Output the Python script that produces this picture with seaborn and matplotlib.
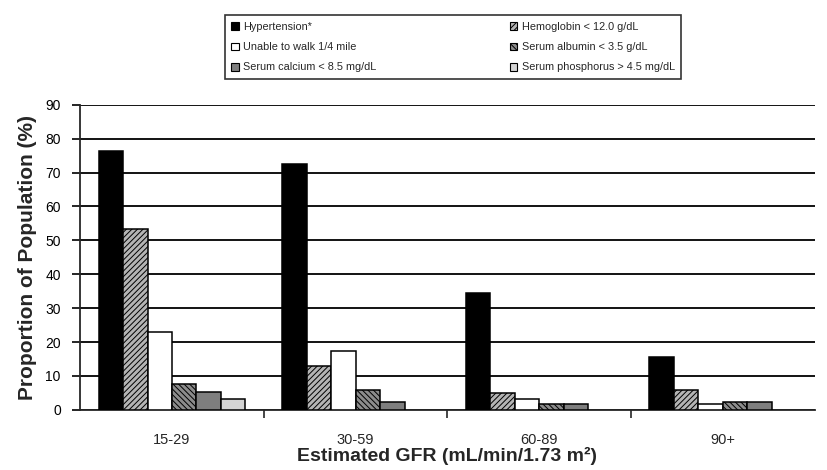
import numpy as np
import pandas as pd
import matplotlib
matplotlib.use("Agg")
import matplotlib.pyplot as plt
from matplotlib.patches import Patch
import seaborn as sns

# Estimated GFR groups and the prevalence (%) of each condition
gfr_groups = ["15-29", "30-59", "60-89", "90+"]
hypertension = [76.5, 72.6, 34.4, 15.5]
hemoglobin = [53.4, 13.0, 4.9, 5.8]
unable_walk = [23.1, 17.5, 3.3, 1.6]
albumin = [7.7, 5.8, 1.8, 2.2]
calcium = [5.4, 2.4, 1.8, 2.3]
phosphorus = [3.2, np.nan, np.nan, np.nan]

series_names = [
    "Hypertension*",
    "Hemoglobin < 12.0 g/dL",
    "Unable to walk 1/4 mile",
    "Serum albumin < 3.5 g/dL",
    "Serum calcium < 8.5 mg/dL",
    "Serum phosphorus > 4.5 mg/dL",
]
series_values = [hypertension, hemoglobin, unable_walk, albumin, calcium, phosphorus]

face_colors = ["#000000", "#b4b4b4", "#ffffff", "#8c8c8c", "#7e7e7e", "#d4d4d4"]
hatches = [None, "//////", None, "\\\\\\\\\\\\", None, None]

rows = []
for name, vals in zip(series_names, series_values):
    for g, v in zip(gfr_groups, vals):
        rows.append({"GFR": g, "Condition": name, "Percent": v})
df = pd.DataFrame(rows).dropna()

sns.set_style("white")
plt.rcParams["font.family"] = ["Liberation Sans", "DejaVu Sans"]
plt.rcParams["hatch.linewidth"] = 0.7
plt.rcParams["hatch.color"] = "#333333"

fig = plt.figure(figsize=(8.27, 4.70), dpi=100)
ax = fig.add_axes([0.097, 0.128, 0.888, 0.649])

sns.barplot(
    data=df, x="GFR", y="Percent", hue="Condition",
    order=gfr_groups, hue_order=series_names,
    palette=dict(zip(series_names, face_colors)),
    errorbar=None, dodge=True, width=0.8, legend=False,
    edgecolor="black", linewidth=1.1, saturation=1, ax=ax, zorder=3,
)

for container, hatch in zip(ax.containers, hatches):
    for bar in container:
        if hatch:
            bar.set_hatch(hatch)
        bar.set_zorder(3)

ax.set_ylim(0, 90)
ax.set_xlim(-0.5, len(gfr_groups) - 0.5)
ax.set_yticks(np.arange(0, 91, 10))
ax.yaxis.grid(True, color="black", linewidth=1.3, zorder=0)
ax.set_axisbelow(True)

for side in ["top", "right"]:
    ax.spines[side].set_visible(False)
ax.spines["left"].set_linewidth(1.3)
ax.spines["bottom"].set_linewidth(1.3)

ax.tick_params(axis="y", which="major", direction="out", length=6, width=1.2,
               labelsize=10, colors="black", left=True, pad=8)
ax.tick_params(axis="x", which="major", length=0, labelsize=10.5, pad=17)
ax.set_xticks(np.arange(0.5, len(gfr_groups) - 0.5), minor=True)
ax.tick_params(axis="x", which="minor", direction="out", length=6, width=1.2, bottom=True)

ax.set_ylabel("Proportion of Population (%)", fontsize=15, fontweight="bold", labelpad=6)
ax.set_xlabel("Estimated GFR (mL/min/1.73 m²)", fontsize=14, fontweight="bold", labelpad=0)

legend_order = [0, 2, 4, 1, 3, 5]
handles = [
    Patch(facecolor=face_colors[i], edgecolor="black", linewidth=0.8,
          hatch=hatches[i] if hatches[i] else None, label=series_names[i])
    for i in legend_order
]
leg = fig.legend(
    handles=handles, loc="upper center", bbox_to_anchor=(453 / 827, 1 - 10 / 470),
    ncol=2, fontsize=7.8, frameon=True, fancybox=False, edgecolor="black",
    handlelength=0.7, handleheight=0.7, handletextpad=0.4, columnspacing=12.3,
    labelspacing=0.95, borderpad=0.6,
)
leg.get_frame().set_linewidth(1.2)

fig.savefig("out.png", dpi=100, facecolor="white")
